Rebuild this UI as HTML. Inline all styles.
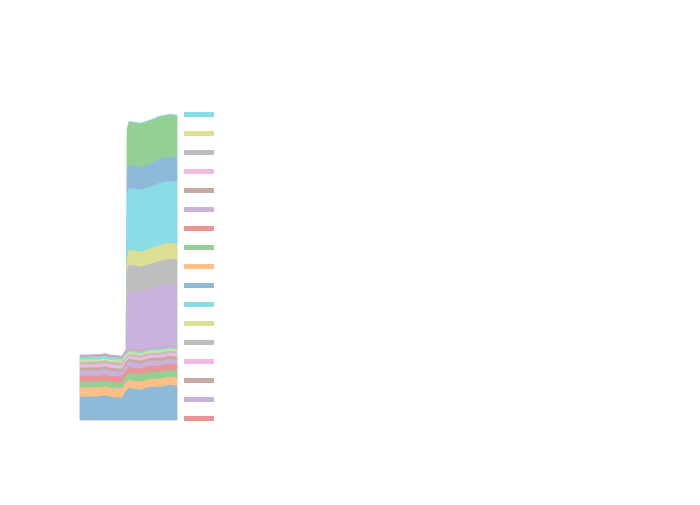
<!DOCTYPE html>
<html><head><meta charset="utf-8"><style>html,body{margin:0;background:#fff;}</style></head>
<body>
<svg id="s" width="700" height="500" xmlns="http://www.w3.org/2000/svg"></svg>
<script>
var C={b:"#8fb9d9",o:"#ffbf86",g:"#96cf96",r:"#ea9595",p:"#c9b3dd",n:"#c7aaa3",k:"#f0bbdf",y:"#bebebe",l:"#dddf94",c:"#8adde6"};
var L=[["b",397,388,386],["o",388,380,378],["g",382,373,371],["r",376,367,365],["p",371,362,360],["n",368,359,357],["k",365,356,354],["y",362,354,352],["l",360,352,350],["c",357,350,348],["r",356,349,347],["p",355,290,285],["y",355,265,260],["l",355,250,244],["c",355,188,182],["b",355,165,158],["g",355,122,116],["c",355,121,115]];
var s="";
for(var i=L.length-1;i>=0;i--){var a=L[i];var yl=a[1],y1=a[2],y2=a[3];
var big=(yl-y1)>20;
var pts="80,"+yl+" 100,"+(yl-0.5)+" 105,"+(yl-1.5)+" 110,"+yl+" 122,"+(yl+1)+(big?" 126,"+(yl-6)+" 127,"+(y1+8):" 126,"+(y1+3))+" 129,"+y1+" 140,"+(y1+2)+" 150,"+(y1-1)+" 160,"+(y2+1)+" 170,"+(y2-1)+" 177,"+y2+" 177,420 80,420";
s+='<polygon points="'+pts+'" fill="'+C[a[0]]+'" stroke="'+C[a[0]]+'" stroke-width="0.5"/>';}
var lg=["c","l","y","k","n","p","r","g","o","b","c","l","y","k","n","p","r"];
for(var j=0;j<lg.length;j++){s+='<rect x="184" y="'+(112+j*19)+'" width="30" height="5" fill="'+C[lg[j]]+'"/>';}
document.getElementById("s").innerHTML=s;
</script>
</body></html>
